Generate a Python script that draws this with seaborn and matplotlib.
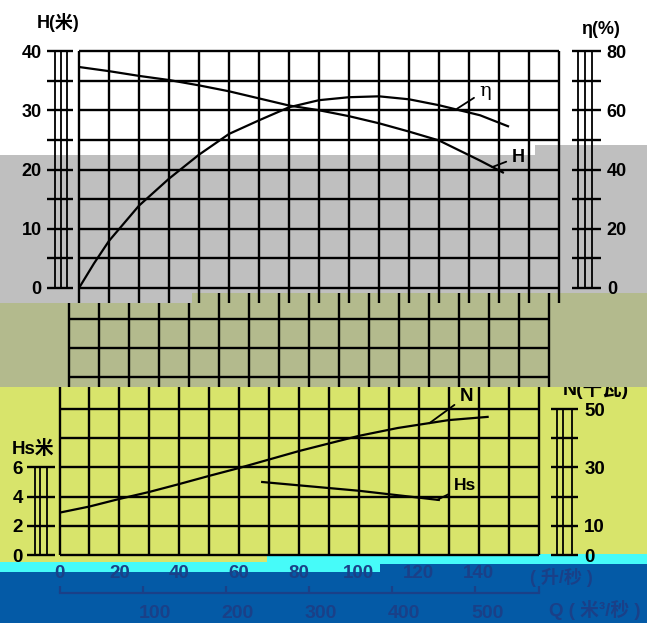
import numpy as np
import matplotlib
matplotlib.use("Agg")
import matplotlib.pyplot as plt
import matplotlib.transforms as mtransforms
import seaborn as sns

# --- data ---
# top chart: head H (m) and efficiency eta (%) against flow Q (L/s)
Q_H = [0, 10, 20, 30, 40, 50, 60, 70, 80, 90, 100, 110, 120, 133.7, 141.3]
H_VALS = [37.3, 36.6, 35.8, 35.1, 34.2, 33.2, 32.0, 30.8, 30.0, 29.0, 27.8, 26.4, 24.9, 21.5, 19.5]
Q_ETA = [0, 5, 10, 20, 30, 40, 50, 60, 70, 80, 90, 100, 110, 120, 133.7, 143]
ETA_VALS = [0, 8.3, 15.9, 27.8, 36.9, 45.0, 52.0, 56.6, 61.0, 63.4, 64.4, 64.7, 63.7, 61.7, 58.3, 54.6]

# bottom chart: shaft power N (kW) and suction head Hs (m)
Q_N = [0, 10, 20, 30, 40, 50, 60, 80, 100, 113, 130, 143]
N_VALS = [14.5, 16.6, 19.2, 21.6, 24.3, 27.1, 29.8, 35.6, 40.8, 43.5, 46.2, 47.3]
Q_HS = [67.7, 100, 126.7]
HS_VALS = [5.0, 4.4, 3.77]

Q_TICKS = [0, 20, 40, 60, 80, 100, 120, 140]
M3_TICKS = [100, 200, 300, 400, 500]

# colours of the scan
WHITE = "#ffffff"
GRAY = "#bfbfbf"
OLIVE = "#b3ba8d"
YELLOW = "#d8e46b"
CYAN = "#46fbf9"
BLUE_BG = "#045aa6"
BLUE_TXT = "#1a4088"

GRID_LW = 1.7
CURVE_LW = 1.6

W, HGT = 647, 623

plt.rcParams["font.family"] = ["Liberation Sans", "Noto Sans CJK SC", "DejaVu Sans"]
plt.rcParams["font.weight"] = "bold"

fig = plt.figure(figsize=(W / 100, HGT / 100), dpi=100)
fig.patch.set_facecolor(WHITE)


def box(x0, y0, x1, y1):
    """pixel box (top-left origin) -> figure rect"""
    return [x0 / W, 1 - y1 / HGT, (x1 - x0) / W, (y1 - y0) / HGT]


# background bands of the scan
bg = fig.add_axes([0, 0, 1, 1], zorder=0)
bg.set_xlim(0, W)
bg.set_ylim(HGT, 0)
bg.axis("off")
bg.fill([0, W, W, 0], [0, 0, HGT, HGT], color=BLUE_BG, lw=0, zorder=0)
bg.fill([0, 267, 267, W, W, 380, 380, 0], [562, 562, 554, 554, 564, 564, 572, 572],
        color=CYAN, lw=0, zorder=0)
bg.fill([0, W, W, 267, 267, 0], [387, 387, 554, 554, 562, 562], color=YELLOW, lw=0, zorder=0)
bg.fill([0, 192, 192, W, W, 0], [303, 303, 293, 293, 387, 387], color=OLIVE, lw=0, zorder=2)
bg.fill([0, 535, 535, W, W, 192, 192, 0], [0, 0, 145, 145, 293, 293, 303, 303],
        color=GRAY, lw=0, zorder=0)
bg.fill([0, 535, 535, 0], [0, 0, 155, 155], color=WHITE, lw=0, zorder=0)
bg.fill([535, W, W, 535], [0, 0, 145, 145], color=WHITE, lw=0, zorder=0)

bg.text(58, 23, "H(米)", ha="center", va="center", fontsize=13, zorder=3)
bg.text(600, 30, "η(%)", ha="center", va="center", fontsize=13, zorder=3)
bg.text(33, 449, "Hs米", ha="center", va="center", fontsize=13.5, zorder=3)
bg.text(596, 389, "N(千瓦)", ha="center", va="center", fontsize=14, zorder=1)
bg.text(561, 577, "( 升/秒 )", ha="center", va="center", fontsize=13, color=BLUE_TXT, zorder=3)
bg.text(595, 610, "Q ( 米³/秒 )", ha="center", va="center", fontsize=13.5, color=BLUE_TXT, zorder=3)

# ---- top chart (H, eta) ----
PX_T = 237 / 40.0
ax_t = fig.add_axes(box(79, 51, 559, 303), zorder=2)
y_low = -15 / PX_T
sns.lineplot(x=Q_H, y=H_VALS, ax=ax_t, color="k", lw=CURVE_LW)
ax_t.vlines(np.arange(0, 161, 10), y_low, 40, color="k", lw=GRID_LW, clip_on=False)
ax_t.hlines(np.arange(0, 41, 5), 0, 160, color="k", lw=GRID_LW, clip_on=False)
ax_t.set_xlim(0, 160)
ax_t.set_ylim(y_low, 40)
ax_t.axis("off")

ax_e = ax_t.twinx()
sns.lineplot(x=Q_ETA, y=ETA_VALS, ax=ax_e, color="k", lw=CURVE_LW)
ax_e.set_xlim(0, 160)
ax_e.set_ylim(2 * y_low, 80)
ax_e.axis("off")

ax_t.annotate("H", xy=(137.7, 20.4), xytext=(26, 10), textcoords="offset pixels",
              fontsize=13, ha="center", va="center",
              arrowprops=dict(arrowstyle="-", color="k", lw=1.3, shrinkA=2, shrinkB=0))
ax_e.annotate("η", xy=(126, 60.5), xytext=(28, 18), textcoords="offset pixels",
              fontsize=14, fontweight="normal", family="DejaVu Serif", ha="center", va="center",
              arrowprops=dict(arrowstyle="-", color="k", lw=1.3, shrinkA=2, shrinkB=0))

# ---- middle strip: upper part of the N grid ----
PX_B = 2.92
ax_m = fig.add_axes(box(69, 293, 549, 387), zorder=1)
m_top = 60 + 84 / PX_B
m_bot = 60 - 10 / PX_B
q_mid = np.arange(0, 161, 10)
tops = np.where(q_mid < 41, 60 + 74 / PX_B, m_top)
ax_m.vlines(q_mid, m_bot, tops, color="k", lw=GRID_LW, clip_on=False)
ax_m.hlines([60, 70, 80], 0, 160, color="k", lw=GRID_LW, clip_on=False)
ax_m.set_xlim(0, 160)
ax_m.set_ylim(m_bot, m_top)
ax_m.axis("off")

# ---- bottom chart (N, Hs) ----
ax_b = fig.add_axes(box(59.5, 387, 538.5, 555), zorder=2)
ax_b.patch.set_alpha(0)
n_top = 168 / PX_B
sns.lineplot(x=Q_N, y=N_VALS, ax=ax_b, color="k", lw=CURVE_LW)
ax_b.vlines(np.arange(0, 161, 10), 0, n_top, color="k", lw=GRID_LW, clip_on=False)
ax_b.hlines(np.arange(0, 51, 10), 0, 160, color="k", lw=GRID_LW, clip_on=False)
ax_b.set_xlim(0, 160)
ax_b.set_ylim(0, n_top)
for s in ax_b.spines.values():
    s.set_visible(False)
ax_b.set_yticks([])
ax_b.set_xticks(Q_TICKS, labels=[str(q) for q in Q_TICKS])
ax_b.tick_params(axis="x", length=0, pad=7, labelsize=13.5, labelcolor=BLUE_TXT)
ax_b.set_xlabel("")
ax_b.set_ylabel("")

ax_hs = ax_b.twinx()
sns.lineplot(x=Q_HS, y=HS_VALS, ax=ax_hs, color="k", lw=CURVE_LW)
ax_hs.set_xlim(0, 160)
ax_hs.set_ylim(0, n_top / 5)
ax_hs.axis("off")

ax_b.annotate("N", xy=(123.5, 45.1), xytext=(37, 27), textcoords="offset pixels",
              fontsize=13.5, ha="center", va="center",
              arrowprops=dict(arrowstyle="-", color="k", lw=1.3, shrinkA=2, shrinkB=0))
ax_hs.annotate("Hs", xy=(126.2, 3.78), xytext=(28, 14), textcoords="offset pixels",
               fontsize=12.5, ha="center", va="center",
               arrowprops=dict(arrowstyle="-", color="k", lw=1.3, shrinkA=2, shrinkB=0))

# second flow scale in m3/h below the chart
sec = ax_b.secondary_xaxis(-38 / 168, functions=(lambda q: q * 3.6, lambda m: m / 3.6))
sec.set_xticks([0] + M3_TICKS + [576], labels=[""] + [str(m) for m in M3_TICKS] + [""])
sec.spines["bottom"].set_color(BLUE_TXT)
sec.spines["bottom"].set_linewidth(1.6)
sec.tick_params(direction="in", length=5, width=1.6, color=BLUE_TXT,
                labelcolor=BLUE_TXT, labelsize=14, pad=9)
shift = mtransforms.ScaledTranslation(0.12, 0, fig.dpi_scale_trans)
for lab in sec.get_xticklabels():
    lab.set_transform(lab.get_transform() + shift)


# ---- triple-line value scales ----
def scale_axis(rect, lim, tick_vals, label_vals, line_xs, tick_span, side, pad, size=13):
    x0, y0, x1, y1 = rect
    ax = fig.add_axes(box(x0, y0, x1, y1), zorder=2)
    ax.patch.set_alpha(0)
    ax.set_xlim(0, x1 - x0)
    ax.set_ylim(*lim)
    ax.vlines(line_xs, lim[0], lim[1], color="k", lw=1.3, clip_on=False)
    ax.hlines(tick_vals, tick_span[0], tick_span[1], color="k", lw=GRID_LW, clip_on=False)
    for s in ax.spines.values():
        s.set_visible(False)
    ax.set_xticks([])
    ax.set_yticks(label_vals, labels=[str(v) for v in label_vals])
    if side == "right":
        ax.yaxis.tick_right()
    ax.tick_params(axis="y", length=0, pad=pad, labelsize=size)
    return ax


scale_axis((45, 51, 75, 288), (0, 40), np.arange(0, 41, 5), [0, 10, 20, 30, 40],
           [10, 16, 22], (2, 28), "left", 2.5)
scale_axis((570, 51, 602, 288), (0, 80), np.arange(0, 81, 10), [0, 20, 40, 60, 80],
           [8, 15, 22], (2, 31), "right", 3.5)
scale_axis((25, 555 - 6 * 5 * PX_B / 1, 57, 555), (0, 6), [0, 2, 4, 6], [0, 2, 4, 6],
           [10, 15, 22], (2, 30), "left", 1.5, 13.5)
scale_axis((549, 555 - 50 * PX_B, 580, 555), (0, 50), np.arange(0, 51, 10), [0, 10, 30, 50],
           [8, 14, 23], (2, 29), "right", 3, 13.5)

fig.savefig("out.png", dpi=100)
